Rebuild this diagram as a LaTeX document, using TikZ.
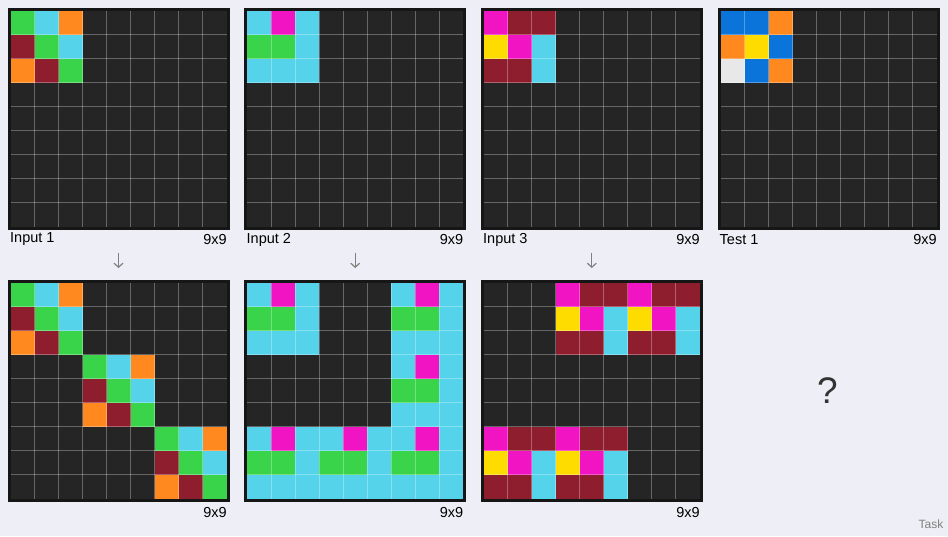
\documentclass[tikz,border=0pt]{standalone}
\usepackage{fontspec}
\setmainfont{Liberation Sans}
\usetikzlibrary{arrows.meta}

% cell colours
\definecolor{pagebg}{RGB}{238,238,246}
\definecolor{arcK}{RGB}{37,37,37}
\definecolor{arcG}{RGB}{57,212,73}
\definecolor{arcC}{RGB}{84,211,235}
\definecolor{arcO}{RGB}{255,137,30}
\definecolor{arcM}{RGB}{142,30,46}
\definecolor{arcP}{RGB}{240,20,194}
\definecolor{arcY}{RGB}{255,220,0}
\definecolor{arcB}{RGB}{10,116,218}
\definecolor{arcW}{RGB}{232,232,232}
\definecolor{gridborder}{RGB}{22,22,22}

\tikzset{
  gridline/.style={white, opacity=0.3, line width=0.9pt},
  lbl/.style={font=\fontsize{14.5}{16}\selectfont, inner sep=0pt, text=black},
  flow/.style={gray, line width=1.2pt, -{Straight Barb[length=4pt,width=9pt]}}
}

% 9x9 grid at (#1,#2), rows of colour letters in #3
\newcommand{\arcgrid}[3]{%
  \begin{scope}[shift={(#1,#2)}]
    \fill[gridborder] (-3,-3) rectangle (219,219);
    \fill[arcK] (0,0) rectangle (216,216);
    \foreach \row [count=\r from 0] in {#3} {
      \foreach \c [count=\q from 0] in \row {
        \fill[fill=arc\c] (\q*24,\r*24) rectangle ++(24,24);
      }
    }
    \foreach \i in {1,...,8} {
      \draw[gridline] (\i*24,0) -- (\i*24,216);
      \draw[gridline] (0,\i*24) -- (216,\i*24);
    }
  \end{scope}}

\begin{document}
\begin{tikzpicture}[x=1pt,y=-1pt]
    % Page
    \fill[pagebg] (0,0) rectangle (948,536);
    \useasboundingbox (0,0) rectangle (948,536);

    % Inputs and test
    \arcgrid{10.5}{10.5}{{G,C,O},{M,G,C},{O,M,G}}
    \arcgrid{247.2}{10.5}{{C,P,C},{G,G,C},{C,C,C}}
    \arcgrid{483.8}{10.5}{{P,M,M},{Y,P,C},{M,M,C}}
    \arcgrid{720.5}{10.5}{{B,B,O},{O,Y,B},{W,B,O}}

    % Outputs
    \arcgrid{10.5}{282.5}{{G,C,O},{M,G,C},{O,M,G},
      {K,K,K,G,C,O},{K,K,K,M,G,C},{K,K,K,O,M,G},
      {K,K,K,K,K,K,G,C,O},{K,K,K,K,K,K,M,G,C},{K,K,K,K,K,K,O,M,G}}
    \arcgrid{247.2}{282.5}{{C,P,C,K,K,K,C,P,C},{G,G,C,K,K,K,G,G,C},{C,C,C,K,K,K,C,C,C},
      {K,K,K,K,K,K,C,P,C},{K,K,K,K,K,K,G,G,C},{K,K,K,K,K,K,C,C,C},
      {C,P,C,C,P,C,C,P,C},{G,G,C,G,G,C,G,G,C},{C,C,C,C,C,C,C,C,C}}
    \arcgrid{483.8}{282.5}{{K,K,K,P,M,M,P,M,M},{K,K,K,Y,P,C,Y,P,C},{K,K,K,M,M,C,M,M,C},
      {K},{K},{K},
      {P,M,M,P,M,M},{Y,P,C,Y,P,C},{M,M,C,M,M,C}}

    % Labels under the top grids
    \node[lbl, anchor=west] (in1) at (10,239.5) {Input 1};
    \node[lbl, anchor=east] (in1sz) at (227,239.5) {9x9};
    \node[lbl, anchor=west] (in2) at (246.5,239.5) {Input 2};
    \node[lbl, anchor=east] (in2sz) at (463.5,239.5) {9x9};
    \node[lbl, anchor=west] (in3) at (483,239.5) {Input 3};
    \node[lbl, anchor=east] (in3sz) at (700,239.5) {9x9};
    \node[lbl, anchor=west] (test1) at (719.5,239.5) {Test 1};
    \node[lbl, anchor=east] (test1sz) at (937,239.5) {9x9};

    % Sizes under the outputs
    \node[lbl, anchor=east] (out1sz) at (227,512.5) {9x9};
    \node[lbl, anchor=east] (out2sz) at (463.5,512.5) {9x9};
    \node[lbl, anchor=east] (out3sz) at (700,512.5) {9x9};

    % Arrows
    \foreach \n/\x in {1/118.5,2/355.2,3/591.8} {
      \coordinate (a\n s) at (\x,252.5);
      \coordinate (a\n e) at (\x,268);
      \draw[flow] (a\n s) -- (a\n e);
    }

    % Unknown answer and footer
    \node[font=\fontsize{37}{40}\selectfont, text={rgb,255:red,51;green,51;blue,51}, inner sep=0pt] (answer) at (827.5,391) {?};
    \node[font=\fontsize{12}{14}\selectfont, text=gray, anchor=east, inner sep=0pt] (task) at (943.5,524) {Task};
\end{tikzpicture}
\end{document}
